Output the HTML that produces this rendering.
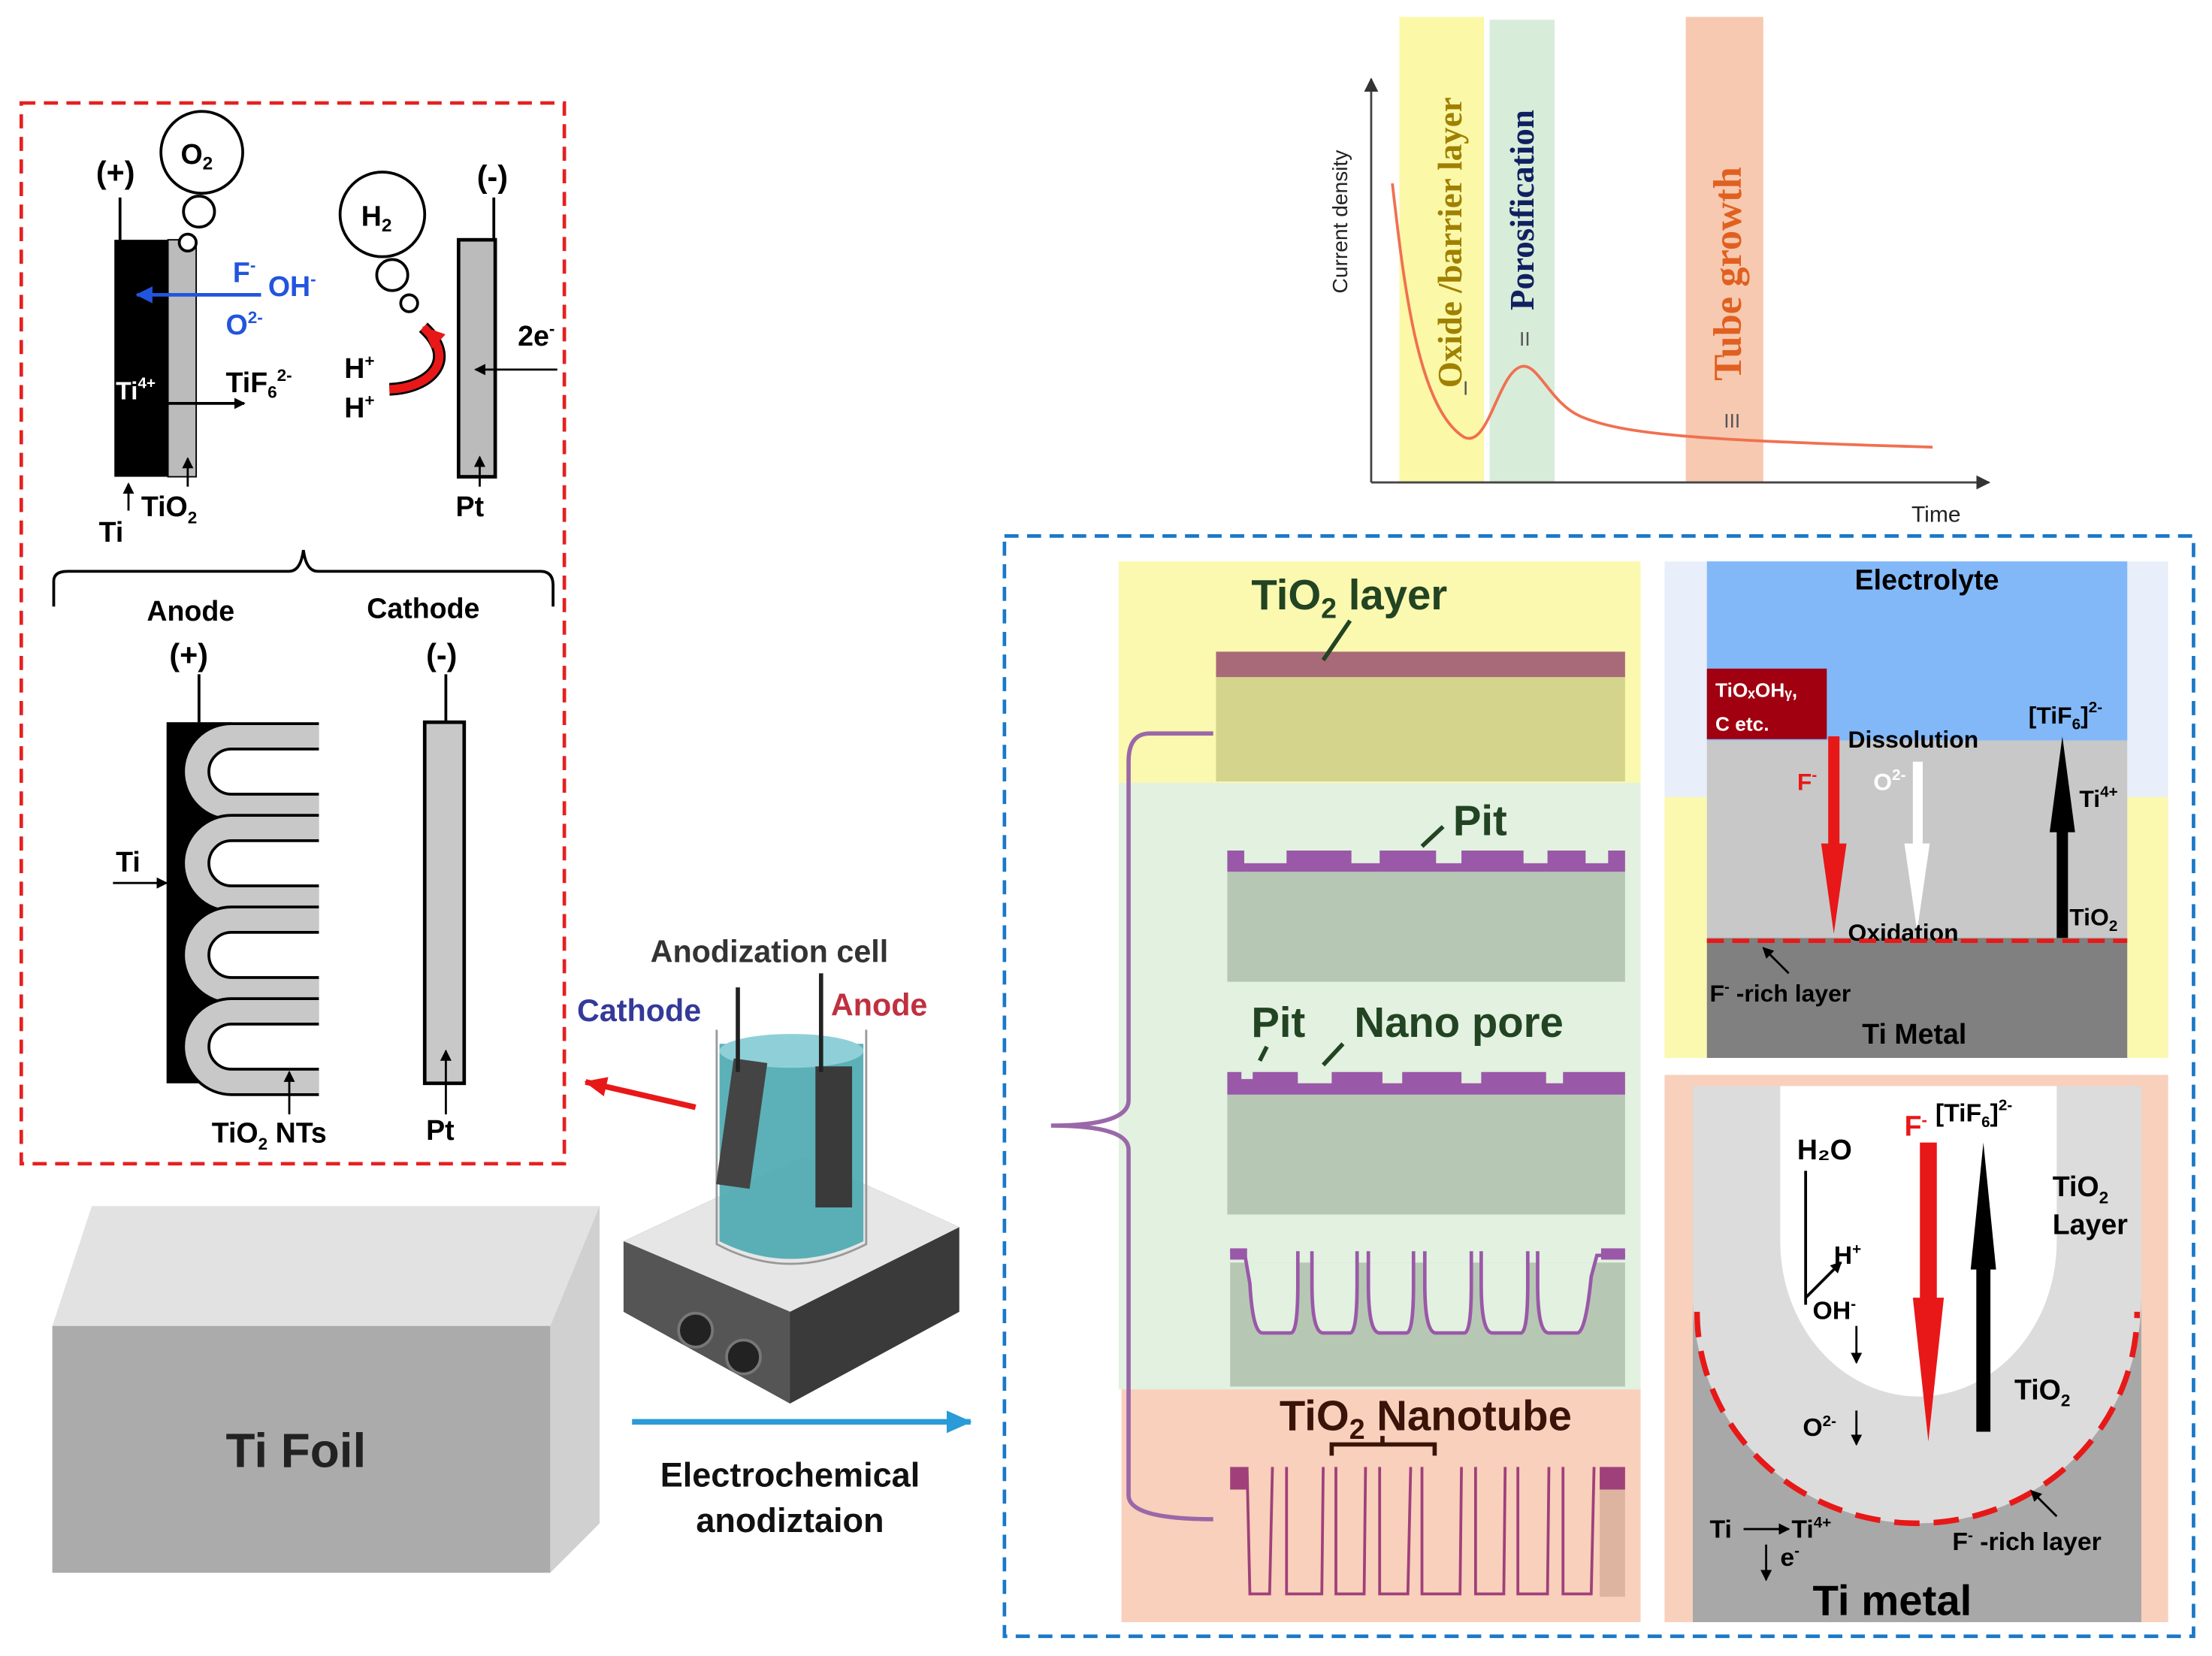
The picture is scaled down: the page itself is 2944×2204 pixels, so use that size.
<!DOCTYPE html>
<html><head><meta charset="utf-8"><style>
html,body{margin:0;padding:0;background:#fff;}
svg{display:block;}
text{font-family:"Liberation Sans",Arial,sans-serif;font-weight:bold;}
</style></head><body>
<svg width="2944" height="2204" viewBox="0 0 1568 1174" xmlns="http://www.w3.org/2000/svg">
<defs>
<marker id="ab" markerWidth="8" markerHeight="8" refX="7" refY="4" orient="auto" markerUnits="userSpaceOnUse"><path d="M0,0 L8,4 L0,8 z" fill="#000"/></marker>
<marker id="ag" markerWidth="10" markerHeight="10" refX="9" refY="5" orient="auto" markerUnits="userSpaceOnUse"><path d="M0,0 L10,5 L0,10 z" fill="#333"/></marker>
<marker id="abl" markerWidth="12" markerHeight="12" refX="11" refY="6" orient="auto" markerUnits="userSpaceOnUse"><path d="M0,0 L12,6 L0,12 z" fill="#2255dd"/></marker>
<marker id="ar" markerWidth="16" markerHeight="14" refX="15" refY="7" orient="auto" markerUnits="userSpaceOnUse"><path d="M0,0 L16,7 L0,14 z" fill="#e81818"/></marker>
<marker id="acy" markerWidth="18" markerHeight="16" refX="17" refY="8" orient="auto" markerUnits="userSpaceOnUse"><path d="M0,0 L18,8 L0,16 z" fill="#2a9ad8"/></marker>
</defs>

<!-- ===== GRAPH ===== -->
<rect x="992" y="12" width="60" height="330" fill="#fbf8a8"/>
<rect x="1056" y="14" width="46" height="328" fill="#d7ecd9"/>
<rect x="1195" y="12" width="55" height="330" fill="#f7c9b0"/>
<line x1="972" y1="342" x2="972" y2="56" stroke="#444" stroke-width="1.5" marker-end="url(#ag)"/>
<line x1="972" y1="342" x2="1410" y2="342" stroke="#444" stroke-width="1.5" marker-end="url(#ag)"/>
<path d="M987,130 C995,200 1005,290 1038,310 C1055,318 1062,265 1078,260 C1090,256 1098,285 1120,295 C1150,308 1200,312 1370,317" fill="none" stroke="#f07050" stroke-width="2"/>
<text transform="translate(955,208) rotate(-90)" font-size="15" style="font-weight:normal" fill="#222">Current density</text>
<text x="1355" y="370" font-size="16" style="font-weight:normal" fill="#222">Time</text>
<text transform="translate(1036,275) rotate(-90)" font-size="24" fill="#a08000" style="font-family:'Liberation Serif',serif">Oxide /barrier layer</text>
<text transform="translate(1087,220) rotate(-90)" font-size="24" fill="#102060" style="font-family:'Liberation Serif',serif">Porosification</text>
<text transform="translate(1234,270) rotate(-90)" font-size="28" fill="#e06020" style="font-family:'Liberation Serif',serif">Tube growth</text>
<text x="1037" y="280" font-size="14" fill="#555" style="font-weight:normal">I</text>
<text x="1077" y="245" font-size="14" fill="#555" style="font-weight:normal">II</text>
<text x="1222" y="303" font-size="14" fill="#555" style="font-weight:normal">III</text>

<!-- ===== RED DASHED BOX ===== -->
<rect x="15" y="73" width="385" height="752" fill="none" stroke="#e52020" stroke-width="2.5" stroke-dasharray="10,6"/>
<rect x="81" y="170" width="38" height="168" fill="#000"/>
<rect x="119" y="170" width="20" height="168" fill="#bbb" stroke="#000"/>
<line x1="85" y1="170" x2="85" y2="140" stroke="#000" stroke-width="2"/>
<text x="68" y="130" font-size="22">(+)</text>
<circle cx="143" cy="108" r="29" fill="#fff" stroke="#000" stroke-width="2"/>
<text x="128" y="116" font-size="20">O<tspan font-size="13" dy="4">2</tspan></text>
<circle cx="141" cy="150" r="11" fill="#fff" stroke="#000" stroke-width="2"/>
<circle cx="133" cy="172" r="6" fill="#fff" stroke="#000" stroke-width="2"/>
<line x1="185" y1="209" x2="97" y2="209" stroke="#2255dd" stroke-width="2.5" marker-end="url(#abl)"/>
<text x="165" y="200" font-size="20" fill="#2255dd">F<tspan font-size="12" dy="-8">-</tspan></text>
<text x="190" y="210" font-size="20" fill="#2255dd">OH<tspan font-size="12" dy="-8">-</tspan></text>
<text x="160" y="237" font-size="20" fill="#2255dd">O<tspan font-size="12" dy="-8">2-</tspan></text>
<text x="82" y="283" font-size="18" fill="#fff">Ti<tspan font-size="11" dy="-8">4+</tspan></text>
<line x1="110" y1="286" x2="173" y2="286" stroke="#000" stroke-width="2" marker-end="url(#ab)"/>
<text x="160" y="278" font-size="20">TiF<tspan font-size="12" dy="4">6</tspan><tspan font-size="12" dy="-12">2-</tspan></text>
<line x1="91" y1="362" x2="91" y2="343" stroke="#000" stroke-width="1.5" marker-end="url(#ab)"/>
<line x1="133" y1="345" x2="133" y2="325" stroke="#000" stroke-width="1.5" marker-end="url(#ab)"/>
<text x="70" y="384" font-size="20">Ti</text>
<text x="100" y="366" font-size="20">TiO<tspan font-size="12" dy="5">2</tspan></text>
<rect x="325" y="170" width="26" height="168" fill="#bbb" stroke="#000" stroke-width="2.5"/>
<line x1="350" y1="170" x2="350" y2="140" stroke="#000" stroke-width="2"/>
<text x="338" y="133" font-size="22">(-)</text>
<circle cx="271" cy="152" r="30" fill="#fff" stroke="#000" stroke-width="2"/>
<text x="256" y="160" font-size="20">H<tspan font-size="13" dy="4">2</tspan></text>
<circle cx="278" cy="195" r="11" fill="#fff" stroke="#000" stroke-width="2"/>
<circle cx="290" cy="215" r="6" fill="#fff" stroke="#000" stroke-width="2"/>
<path d="M276,276 C305,275 325,255 300,232" fill="none" stroke="#000" stroke-width="9"/>
<path d="M276,276 C305,275 325,255 300,232" fill="none" stroke="#e81818" stroke-width="6" marker-end="url(#ar)"/>
<text x="244" y="268" font-size="20">H<tspan font-size="12" dy="-8">+</tspan></text>
<text x="244" y="296" font-size="20">H<tspan font-size="12" dy="-8">+</tspan></text>
<text x="367" y="245" font-size="20">2e<tspan font-size="12" dy="-8">-</tspan></text>
<line x1="395" y1="262" x2="337" y2="262" stroke="#000" stroke-width="1.5" marker-end="url(#ab)"/>
<line x1="340" y1="345" x2="340" y2="324" stroke="#000" stroke-width="1.5" marker-end="url(#ab)"/>
<text x="323" y="366" font-size="20">Pt</text>
<path d="M38,430 L38,412 Q38,405 48,405 L205,405 Q213,405 215,390 Q217,405 225,405 L383,405 Q392,405 392,415 L392,430" fill="none" stroke="#000" stroke-width="2"/>
<text x="104" y="440" font-size="20">Anode</text>
<text x="260" y="438" font-size="20">Cathode</text>
<text x="120" y="472" font-size="22">(+)</text>
<text x="302" y="472" font-size="22">(-)</text>
<line x1="141" y1="478" x2="141" y2="512" stroke="#000" stroke-width="2"/>
<line x1="316" y1="478" x2="316" y2="512" stroke="#000" stroke-width="2"/>
<rect x="118" y="512" width="46" height="256" fill="#000"/>
<g>
<path d="M226,522 L164,522 A25,25 0 0 0 164,572 L226,572" fill="#fff" stroke="#000" stroke-width="20"/>
<path d="M226,522 L164,522 A25,25 0 0 0 164,572 L226,572" fill="none" stroke="#c8c8c8" stroke-width="16"/>
<path d="M226,587 L164,587 A25,25 0 0 0 164,637 L226,637" fill="#fff" stroke="#000" stroke-width="20"/>
<path d="M226,587 L164,587 A25,25 0 0 0 164,637 L226,637" fill="none" stroke="#c8c8c8" stroke-width="16"/>
<path d="M226,652 L164,652 A25,25 0 0 0 164,702 L226,702" fill="#fff" stroke="#000" stroke-width="20"/>
<path d="M226,652 L164,652 A25,25 0 0 0 164,702 L226,702" fill="none" stroke="#c8c8c8" stroke-width="16"/>
<path d="M226,717 L164,717 A25,25 0 0 0 164,767 L226,767" fill="#fff" stroke="#000" stroke-width="20"/>
<path d="M226,717 L164,717 A25,25 0 0 0 164,767 L226,767" fill="none" stroke="#c8c8c8" stroke-width="16"/>
</g>
<line x1="80" y1="626" x2="118" y2="626" stroke="#000" stroke-width="1.5" marker-end="url(#ab)"/>
<text x="82" y="618" font-size="20">Ti</text>
<line x1="205" y1="790" x2="205" y2="760" stroke="#000" stroke-width="1.5" marker-end="url(#ab)"/>
<text x="150" y="810" font-size="20">TiO<tspan font-size="12" dy="5">2</tspan><tspan dy="-5"> NTs</tspan></text>
<rect x="301" y="512" width="28" height="256" fill="#c8c8c8" stroke="#000" stroke-width="2.5"/>
<line x1="316" y1="790" x2="316" y2="745" stroke="#000" stroke-width="1.5" marker-end="url(#ab)"/>
<text x="302" y="808" font-size="20">Pt</text>

<line x1="493" y1="785" x2="415" y2="767" stroke="#e81818" stroke-width="4" marker-end="url(#ar)"/>

<!-- ===== TI FOIL ===== -->
<polygon points="65,855 425,855 390,940 37,940" fill="#e2e2e2"/>
<polygon points="390,940 425,855 425,1080 390,1115" fill="#d0d0d0"/>
<rect x="37" y="940" width="353" height="175" fill="#ababab"/>
<text x="160" y="1040" font-size="34" fill="#222">Ti Foil</text>

<!-- ===== BEAKER ===== -->
<polygon points="442,880 570,820 680,870 680,930 560,995 442,930" fill="#3a3a3a"/>
<polygon points="442,880 570,820 680,870 560,930" fill="#e6e6e6"/>
<polygon points="442,880 560,930 560,995 442,930" fill="#555"/>
<circle cx="493" cy="943" r="12" fill="#222" stroke="#777" stroke-width="2"/>
<circle cx="527" cy="962" r="12" fill="#222" stroke="#777" stroke-width="2"/>
<path d="M510,740 L510,880 Q560,905 612,880 L612,740 Z" fill="#4aa8b0" opacity="0.9"/>
<ellipse cx="561" cy="745" rx="51" ry="12" fill="#8fd0d8"/>
<path d="M508,730 L508,882 Q560,910 614,882 L614,730" fill="none" stroke="#999" stroke-width="1.5"/>
<rect x="520" y="752" width="24" height="90" fill="#444" transform="rotate(8,532,752)"/>
<rect x="578" y="756" width="26" height="100" fill="#3a3a3a"/>
<line x1="523" y1="700" x2="523" y2="760" stroke="#222" stroke-width="3"/>
<line x1="582" y1="690" x2="582" y2="760" stroke="#222" stroke-width="3"/>
<text x="461" y="682" font-size="22" fill="#333">Anodization cell</text>
<text x="409" y="724" font-size="22" fill="#333a99">Cathode</text>
<text x="589" y="720" font-size="22" fill="#c03040">Anode</text>

<line x1="448" y1="1008" x2="688" y2="1008" stroke="#2a9ad8" stroke-width="4" marker-end="url(#acy)"/>
<text x="560" y="1054" font-size="24" text-anchor="middle" fill="#111">Electrochemical</text>
<text x="560" y="1086" font-size="24" text-anchor="middle" fill="#111">anodiztaion</text>

<!-- ===== BLUE DASHED BOX ===== -->
<rect x="712" y="380" width="843" height="780" fill="none" stroke="#1a78c8" stroke-width="2.5" stroke-dasharray="10,6"/>

<rect x="793" y="398" width="370" height="157" fill="#fbf8b0"/>
<rect x="793" y="555" width="370" height="430" fill="#e2f1e0"/>
<rect x="795" y="985" width="368" height="165" fill="#f8d0bc"/>
<rect x="862" y="480" width="290" height="74" fill="#d4d48c"/>
<rect x="862" y="462" width="290" height="18" fill="#a86a78"/>
<text x="887" y="432" font-size="30" fill="#224422">TiO<tspan font-size="20" dy="6">2</tspan><tspan dy="-6"> layer</tspan></text>
<line x1="957" y1="440" x2="938" y2="468" stroke="#224422" stroke-width="3"/>
<rect x="870" y="618" width="282" height="78" fill="#b6c8b4"/>
<path d="M870,618 L870,603 L882,603 L882,612 L912,612 L912,603 L958,603 L958,612 L978,612 L978,603 L1018,603 L1018,612 L1036,612 L1036,603 L1080,603 L1080,612 L1097,612 L1097,603 L1124,603 L1124,612 L1140,612 L1140,603 L1152,603 L1152,618 Z" fill="#9a58a8"/>
<text x="1030" y="592" font-size="30" fill="#224422">Pit</text>
<line x1="1023" y1="586" x2="1008" y2="600" stroke="#224422" stroke-width="3"/>
<rect x="870" y="776" width="282" height="85" fill="#b6c8b4"/>
<path d="M870,776 L870,760 L880,760 L880,765 L888,765 L888,760 L920,760 L920,768 L944,768 L944,760 L980,760 L980,768 L994,768 L994,760 L1036,760 L1036,768 L1050,768 L1050,760 L1096,760 L1096,768 L1108,768 L1108,760 L1152,760 L1152,776 Z" fill="#9a58a8"/>
<text x="887" y="735" font-size="30" fill="#224422">Pit</text>
<text x="960" y="735" font-size="30" fill="#224422">Nano pore</text>
<line x1="952" y1="740" x2="938" y2="755" stroke="#224422" stroke-width="3"/>
<line x1="898" y1="742" x2="893" y2="752" stroke="#224422" stroke-width="3"/>
<rect x="872" y="895" width="280" height="88" fill="#b6c8b4"/>
<path d="M872,887 L882,887 L886,910 Q888,945 895,945 L915,945 Q920,945 920,910 L920,887 L930,887 L930,910 Q930,945 938,945 L957,945 Q962,945 962,910 L962,887 L970,887 L970,910 Q970,945 978,945 L997,945 Q1002,945 1002,910 L1002,887 L1010,887 L1010,910 Q1010,945 1018,945 L1038,945 Q1043,945 1043,910 L1043,887 L1050,887 L1050,910 Q1050,945 1058,945 L1078,945 Q1083,945 1083,910 L1083,887 L1090,887 L1090,910 Q1090,945 1098,945 L1118,945 Q1124,945 1128,905 L1132,890 L1152,890 L1152,887 L1152,895 L872,895 Z" fill="#e2f1e0" stroke="none"/>
<path d="M872,887 L882,887 L886,910 Q888,945 895,945 L915,945 Q920,945 920,910 L920,887 M930,887 L930,910 Q930,945 938,945 L957,945 Q962,945 962,910 L962,887 M970,887 L970,910 Q970,945 978,945 L997,945 Q1002,945 1002,910 L1002,887 M1010,887 L1010,910 Q1010,945 1018,945 L1038,945 Q1043,945 1043,910 L1043,887 M1050,887 L1050,910 Q1050,945 1058,945 L1078,945 Q1083,945 1083,910 L1083,887 M1090,887 L1090,910 Q1090,945 1098,945 L1118,945 Q1124,945 1128,905 L1132,890 L1152,890" fill="none" stroke="#9a58a8" stroke-width="2.5"/>
<rect x="872" y="885" width="12" height="8" fill="#9a58a8"/><rect x="1135" y="885" width="17" height="8" fill="#9a58a8"/>
<rect x="872" y="1040" width="280" height="95" fill="#f8d0bc"/>
<rect x="1134" y="1056" width="18" height="76" fill="#dcb4a0"/>
<rect x="872" y="1040" width="12" height="16" fill="#a0407a"/><rect x="1134" y="1040" width="18" height="16" fill="#a0407a"/>
<g fill="none" stroke="#a0407a" stroke-width="2">
<path d="M884,1040 L886,1130 L900,1130 L902,1040 M912,1040 L912,1130 L937,1130 L938,1040 M947,1040 L947,1130 L967,1130 L968,1040 M978,1040 L978,1130 L998,1130 L1000,1040 M1008,1040 L1008,1130 L1035,1130 L1036,1040 M1046,1040 L1046,1130 L1066,1130 L1067,1040 M1076,1040 L1076,1130 L1097,1130 L1098,1040 M1108,1040 L1108,1130 L1128,1130 L1130,1040"/>
</g>
<text x="907" y="1014" font-size="30" fill="#3a1408">TiO<tspan font-size="20" dy="6">2</tspan><tspan dy="-6"> Nanotube</tspan></text>
<path d="M944,1032 L944,1024 L1017,1024 L1017,1032 M980,1024 L980,1018" fill="none" stroke="#3a1408" stroke-width="3"/>
<path d="M860,520 L815,520 Q800,520 800,540 L800,780 Q800,798 745,798 Q800,798 800,815 L800,1060 Q800,1077 860,1077" fill="none" stroke="#9a68a8" stroke-width="3"/>

<!-- right top panel -->
<rect x="1180" y="398" width="357" height="352" fill="#e8eefa"/>
<rect x="1180" y="565" width="357" height="185" fill="#fbf8b0"/>
<rect x="1210" y="398" width="298" height="127" fill="#82b8f8"/>
<rect x="1210" y="525" width="298" height="140" fill="#c8c8c8"/>
<rect x="1210" y="665" width="298" height="85" fill="#808080"/>
<rect x="1210" y="474" width="85" height="50" fill="#a00010"/>
<text x="1216" y="494" font-size="14" fill="#fff">TiOₓOHᵧ,</text>
<text x="1216" y="518" font-size="14" fill="#fff">C etc.</text>
<text x="1366" y="418" font-size="20" text-anchor="middle">Electrolyte</text>
<text x="1310" y="530" font-size="17">Dissolution</text>
<text x="1438" y="513" font-size="17">[TiF<tspan font-size="11" dy="4">6</tspan><tspan dy="-4">]</tspan><tspan font-size="11" dy="-8">2-</tspan></text>
<polygon points="1296,522 1304,522 1304,598 1309,598 1300,662 1291,598 1296,598" fill="#e81818"/>
<polygon points="1356,540 1363,540 1363,598 1368,598 1359,660 1350,598 1356,598" fill="#fff"/>
<polygon points="1458,665 1466,665 1466,590 1471,590 1462,522 1453,590 1458,590" fill="#000"/>
<text x="1274" y="560" font-size="17" fill="#e81818">F<tspan font-size="11" dy="-7">-</tspan></text>
<text x="1328" y="560" font-size="17" fill="#fff">O<tspan font-size="11" dy="-7">2-</tspan></text>
<text x="1474" y="572" font-size="17">Ti<tspan font-size="11" dy="-7">4+</tspan></text>
<text x="1310" y="667" font-size="17">Oxidation</text>
<text x="1467" y="656" font-size="17">TiO<tspan font-size="11" dy="4">2</tspan></text>
<line x1="1210" y1="667" x2="1508" y2="667" stroke="#e81818" stroke-width="3" stroke-dasharray="12,6"/>
<line x1="1268" y1="690" x2="1250" y2="672" stroke="#000" stroke-width="1.5" marker-end="url(#ab)"/>
<text x="1212" y="710" font-size="17">F<tspan font-size="11" dy="-7">-</tspan><tspan dy="7"> -rich layer</tspan></text>
<text x="1320" y="740" font-size="20">Ti Metal</text>

<!-- right bottom panel -->
<rect x="1180" y="762" width="357" height="388" fill="#f8d0bc"/>
<rect x="1200" y="770" width="318" height="380" fill="#a8a8a8"/>
<path d="M1200,770 L1518,770 L1518,920 A159,160 0 0 1 1200,920 Z" fill="#dcdcdc"/>
<path d="M1262,770 L1458,770 L1458,880 A98,110 0 0 1 1262,880 Z" fill="#fff"/>
<path d="M1203,930 A156,150 0 0 0 1515,930" fill="none" stroke="#e81818" stroke-width="4" stroke-dasharray="18,10"/>
<text x="1350" y="805" font-size="20" fill="#e81818">F<tspan font-size="12" dy="-7">-</tspan></text>
<text x="1372" y="795" font-size="18">[TiF<tspan font-size="11" dy="4">6</tspan><tspan dy="-4">]</tspan><tspan font-size="11" dy="-8">2-</tspan></text>
<polygon points="1361,810 1373,810 1373,920 1378,920 1367,1022 1356,920 1361,920" fill="#e81818"/>
<polygon points="1401,1015 1411,1015 1411,900 1415,900 1406,810 1397,900 1401,900" fill="#000"/>
<text x="1274" y="822" font-size="20">H₂O</text>
<line x1="1280" y1="830" x2="1280" y2="925" stroke="#000" stroke-width="2"/>
<line x1="1280" y1="920" x2="1305" y2="895" stroke="#000" stroke-width="2" marker-end="url(#ab)"/>
<text x="1300" y="896" font-size="18">H<tspan font-size="11" dy="-7">+</tspan></text>
<text x="1285" y="935" font-size="18">OH<tspan font-size="11" dy="-7">-</tspan></text>
<line x1="1316" y1="940" x2="1316" y2="966" stroke="#000" stroke-width="1.5" marker-end="url(#ab)"/>
<text x="1455" y="848" font-size="20">TiO<tspan font-size="12" dy="5">2</tspan></text>
<text x="1455" y="875" font-size="20">Layer</text>
<text x="1428" y="992" font-size="20">TiO<tspan font-size="12" dy="5">2</tspan></text>
<text x="1278" y="1018" font-size="18">O<tspan font-size="11" dy="-7">2-</tspan></text>
<line x1="1316" y1="1000" x2="1316" y2="1024" stroke="#000" stroke-width="1.5" marker-end="url(#ab)"/>
<text x="1212" y="1090" font-size="18">Ti</text>
<line x1="1236" y1="1084" x2="1268" y2="1084" stroke="#000" stroke-width="1.5" marker-end="url(#ab)"/>
<text x="1270" y="1090" font-size="18">Ti<tspan font-size="11" dy="-7">4+</tspan></text>
<line x1="1252" y1="1095" x2="1252" y2="1120" stroke="#000" stroke-width="1.5" marker-end="url(#ab)"/>
<text x="1262" y="1110" font-size="18">e<tspan font-size="11" dy="-7">-</tspan></text>
<line x1="1458" y1="1075" x2="1440" y2="1057" stroke="#000" stroke-width="1.5" marker-end="url(#ab)"/>
<text x="1384" y="1099" font-size="18">F<tspan font-size="11" dy="-7">-</tspan><tspan dy="7"> -rich layer</tspan></text>
<text x="1285" y="1145" font-size="30">Ti metal</text>
</svg>
</body></html>
